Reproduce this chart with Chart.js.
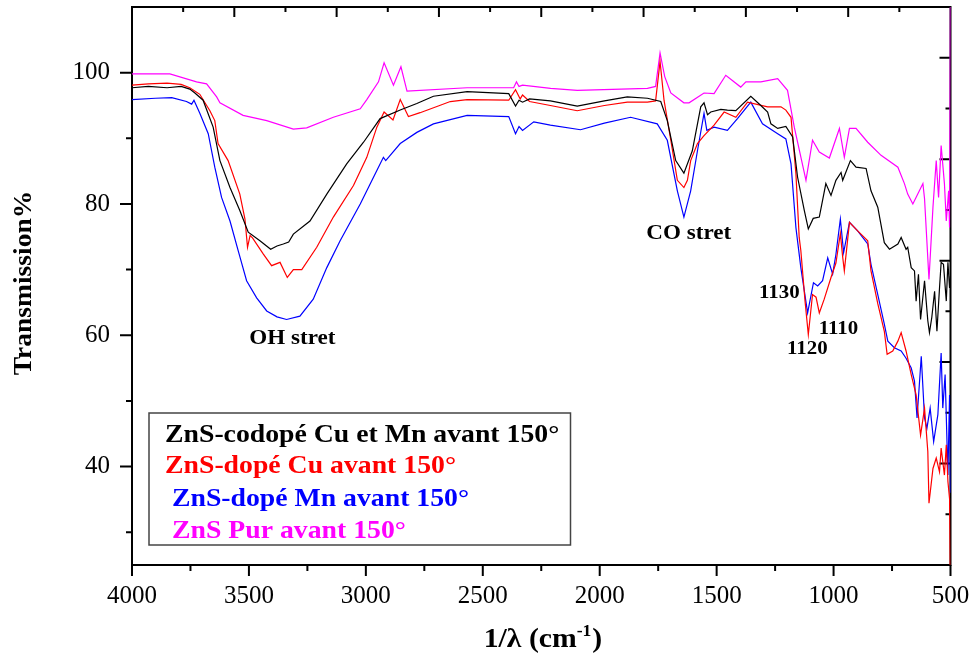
<!DOCTYPE html>
<html><head><meta charset="utf-8">
<script src="https://cdn.jsdelivr.net/npm/chart.js@4.4.1/dist/chart.umd.min.js"></script>
<style>html,body{margin:0;padding:0;background:#fff;}canvas{display:block;}</style>
</head><body>
<canvas id="c" width="975" height="659"></canvas>
<script>
// ---- tick labels / axis values ----
const xTicks = [4000, 3500, 3000, 2500, 2000, 1500, 1000, 500];
const xMinorTicks = [3750, 3250, 2750, 2250, 1750, 1250, 750];
const yTicks = [40, 60, 80, 100];
const yMinorTicks = [30, 50, 70, 90];
const xMin = 500, xMax = 4000, yMin = 25, yMax = 110;

// ---- series names and colours ----
const seriesNames = [
  "ZnS-codopé Cu et Mn avant 150°",
  "ZnS-dopé Cu avant 150°",
  " ZnS-dopé Mn avant 150°",
  "ZnS Pur avant 150°"
];
const seriesColors = ["#000000", "#ff0000", "#0000ff", "#ff00ff"];

// ---- ZnS-codopé Cu et Mn (black) ----
const codopeWn = [4000,3930,3850,3790,3753,3731,3696,3653,3624,3581,3539,3503,3453,3407,3380,3353,3330,3310,3239,3167,3082,3010,2939,2853,2782,2711,2567,2389,2360,2345,2330,2300,2211,2096,1980,1882,1796,1739,1711,1675,1640,1604,1568,1554,1539,1525,1482,1454,1418,1354,1311,1282,1268,1239,1204,1175,1154,1125,1108,1087,1061,1033,1011,990,968,961,928,904,861,840,811,783,761,725,711,690,683,668,654,647,637,628,611,604,597,590,580,568,558,547,540,530,518,511,504,500];
const codopeT  = [97.7,97.9,97.7,97.9,97.5,96.9,95.8,91.7,86.6,82.5,79.0,75.7,74.4,73.1,73.6,73.9,74.2,75.4,77.4,81.5,86.1,89.4,93.0,94.3,95.3,96.4,97.1,96.8,94.9,95.8,95.5,96.0,95.7,94.9,95.7,96.3,96.1,95.6,92.7,86.6,84.7,88.1,94.8,95.4,93.6,94.0,94.4,94.3,94.2,96.4,95.0,94.0,92.2,91.5,91.8,90.2,84.1,79.0,76.2,77.8,78.0,83.1,81.3,83.6,84.8,83.6,86.6,85.6,85.4,82.0,79.5,74.1,73.1,73.9,74.9,73.1,73.4,70.3,69.8,65.2,69.3,62.4,68.3,65.2,62.2,60.4,62.7,66.7,60.6,67.2,71.1,70.8,65.2,71.1,67.2,69.0];

// ---- ZnS-dopé Cu (red) ----
const cuWn = [4000,3930,3850,3790,3753,3710,3667,3646,3632,3589,3539,3517,3506,3495,3484,3439,3403,3367,3336,3310,3274,3210,3139,3053,2996,2953,2922,2884,2853,2818,2768,2639,2567,2389,2360,2340,2330,2300,2211,2096,1980,1882,1796,1761,1742,1725,1696,1668,1640,1625,1611,1582,1554,1511,1468,1418,1368,1282,1225,1204,1182,1161,1147,1140,1122,1108,1090,1075,1061,1040,1011,990,971,961,954,932,897,854,840,811,783,771,747,725,711,690,668,647,628,611,597,592,575,561,547,540,526,518,511,504,500];
const cuT  = [98.1,98.3,98.4,98.2,97.7,96.7,94.2,92.7,89.2,86.6,81.5,77.7,73.4,75.2,74.8,72.4,70.6,71.1,68.8,70.0,70.0,73.4,78.0,82.8,87.1,91.7,94.0,92.8,95.9,93.3,93.9,95.6,95.9,95.8,97.4,96.0,96.6,95.6,95.0,94.2,95.0,95.5,95.5,95.7,101.7,95.8,89.7,83.6,82.5,83.6,86.6,89.2,90.4,92.0,94.0,93.2,95.5,94.8,94.8,94.3,93.2,84.6,74.9,72.9,65.2,60.1,66.2,65.8,63.4,65.5,68.8,71.0,75.5,71.9,69.8,77.2,75.9,74.4,69.8,64.8,60.6,57.1,57.6,59.1,60.4,57.6,54.0,50.9,44.8,48.9,42.3,34.4,39.7,41.3,39.2,42.8,38.7,43.3,37.7,35.1,20.0];

// ---- ZnS-dopé Mn (blue) ----
const mnWn = [4000,3900,3830,3767,3745,3735,3710,3674,3646,3617,3581,3546,3510,3467,3424,3380,3339,3282,3225,3167,3110,3024,2953,2925,2915,2853,2782,2711,2567,2389,2360,2345,2330,2282,2211,2082,1980,1868,1754,1711,1668,1640,1611,1582,1554,1542,1511,1454,1411,1354,1304,1239,1204,1182,1161,1140,1111,1086,1068,1047,1025,1004,990,971,957,932,897,854,840,811,783,768,740,711,690,668,654,643,625,611,601,587,572,554,540,533,523,511,504,500];
const mnT  = [95.9,96.1,96.2,95.6,95.2,95.8,93.8,90.7,85.6,81.0,77.4,72.9,68.3,65.7,63.7,62.8,62.4,62.9,65.5,70.3,74.4,80.0,85.1,87.1,86.6,89.2,90.9,92.2,93.5,93.3,90.7,91.8,91.2,92.5,92.0,91.3,92.3,93.2,92.2,89.7,82.0,78.0,82.0,88.1,93.8,91.2,91.7,91.2,93.0,95.5,92.2,90.7,89.9,86.1,76.4,70.3,63.4,68.0,67.5,68.3,71.8,69.3,72.3,77.7,72.6,77.2,75.9,73.9,70.8,66.2,61.7,59.1,58.1,57.6,56.5,55.0,53.0,47.4,56.8,47.4,45.8,48.9,43.8,47.9,57.3,48.9,54.0,38.7,50.9,36.0];

// ---- ZnS Pur (magenta) ----
const purWn = [4000,3838,3724,3681,3638,3624,3525,3424,3310,3253,3139,3024,2996,2946,2922,2882,2850,2824,2567,2368,2356,2345,2330,2210,2096,1796,1761,1742,1722,1696,1640,1618,1554,1511,1461,1397,1375,1311,1239,1197,1168,1118,1090,1061,1018,975,954,932,904,854,797,725,697,683,661,640,618,611,592,575,561,551,540,526,518,508,504,500];
const purT  = [99.8,99.8,98.6,98.3,96.3,95.4,93.5,92.7,91.4,91.6,93.2,94.5,95.9,98.6,101.5,98.1,100.9,97.2,97.7,97.7,98.6,97.9,98.1,97.6,97.3,97.6,97.9,103.0,99.4,96.9,95.4,95.4,96.9,96.8,99.6,97.8,98.6,98.6,99.1,97.3,91.7,83.6,89.7,87.9,87.0,91.5,87.1,91.5,91.5,89.4,87.4,85.6,83.1,81.5,80.0,81.5,83.1,80.8,68.5,79.5,86.6,81.0,88.9,83.1,77.4,82.0,76.4,115.0];

// ---- annotations (text, wavenumber, transmission at text baseline) ----
const annoTexts = ["OH stret", "CO stret", "1130", "1110", "1120"];
const annoWn    = [3314, 1619, 1232, 979, 1112];
const annoT     = [58.6, 74.7, 65.7, 60.2, 57.1];
const annoSize  = [21, 21, 19, 19, 19];

const FONT = '"Liberation Serif", "Times New Roman", serif';

function toPts(xs, ys) { return xs.map((x, i) => ({ x: x, y: ys[i] })); }

function stretchText(ctx, s, x, y, size, color, align, sx, bold) {
  ctx.save();
  ctx.translate(x, y);
  ctx.scale(sx, 1);
  ctx.font = (bold ? 'bold ' : '') + size + 'px ' + FONT;
  ctx.fillStyle = color;
  ctx.textAlign = align;
  ctx.textBaseline = 'alphabetic';
  ctx.fillText(s, 0, 0);
  ctx.restore();
}

const framePlugin = {
  id: 'frame',
  beforeDatasetsDraw(chart) {
    const ctx = chart.ctx, a = chart.chartArea;
    const xs = chart.scales.x, ys = chart.scales.y;
    ctx.save();
    ctx.strokeStyle = '#000';
    ctx.lineWidth = 2;
    ctx.lineCap = 'square';
    ctx.strokeRect(a.left, a.top, a.right - a.left, a.bottom - a.top);
    ctx.lineCap = 'butt';
    ctx.beginPath();
    xTicks.forEach(v => { const p = xs.getPixelForValue(v); ctx.moveTo(p, a.bottom); ctx.lineTo(p, a.bottom + 11); });
    xMinorTicks.forEach(v => { const p = xs.getPixelForValue(v); ctx.moveTo(p, a.bottom); ctx.lineTo(p, a.bottom + 6); });
    yTicks.forEach(v => { const p = ys.getPixelForValue(v); ctx.moveTo(a.left - 12, p); ctx.lineTo(a.left, p); });
    yMinorTicks.forEach(v => { const p = ys.getPixelForValue(v); ctx.moveTo(a.left - 6, p); ctx.lineTo(a.left, p); });
    for (let i = 1; i < 16; i++) {
      const p = xs.getPixelForValue(xMax - i * (xMax - xMin) / 16);
      ctx.moveTo(p, a.top); ctx.lineTo(p, a.top + (i % 2 === 0 ? 10 : 5));
    }
    for (let i = 1; i < 11; i++) {
      const p = ys.getPixelForValue(yMin + i * (yMax - yMin) / 11);
      ctx.moveTo(a.right, p); ctx.lineTo(a.right - (i % 2 === 0 ? 11 : 5), p);
    }
    ctx.stroke();
    ctx.restore();
  },
  afterDraw(chart) {
    const ctx = chart.ctx;
    const xs = chart.scales.x, ys = chart.scales.y;
    annoTexts.forEach((t, i) => {
      stretchText(ctx, t, xs.getPixelForValue(annoWn[i]), ys.getPixelForValue(annoT[i]), annoSize[i], '#000', 'center', 1.1, true);
    });
    ctx.save();
    ctx.strokeStyle = '#444';
    ctx.lineWidth = 1.5;
    ctx.strokeRect(149, 413, 421.5, 132);
    ctx.restore();
    const lx = [165, 165, 165, 172];
    const ly = [441.5, 473, 505.5, 538];
    seriesNames.forEach((n, i) => stretchText(ctx, n, lx[i], ly[i], 25, seriesColors[i], 'left', 1.11, true));
    ctx.save();
    ctx.translate(31, 283);
    ctx.rotate(-Math.PI / 2);
    stretchText(ctx, 'Transmission%', 0, 0, 25, '#000', 'center', 1.1, true);
    ctx.restore();
    ctx.save();
    const sx = 1.1;
    ctx.font = 'bold 27px ' + FONT;
    const w1 = ctx.measureText('1/λ (cm').width * sx;
    ctx.font = 'bold 16px ' + FONT;
    const w2 = ctx.measureText('-1').width * sx;
    ctx.font = 'bold 27px ' + FONT;
    const w3 = ctx.measureText(')').width * sx;
    const total = w1 + w2 + w3;
    let x0 = 542.5 - total / 2;
    stretchText(ctx, '1/λ (cm', x0, 646.5, 27, '#000', 'left', sx, true);
    stretchText(ctx, '-1', x0 + w1, 636, 16, '#000', 'left', sx, true);
    stretchText(ctx, ')', x0 + w1 + w2 + 1, 646.5, 27, '#000', 'left', sx, true);
    ctx.restore();
  }
};

const datasets = [
  { label: seriesNames[0], data: toPts(codopeWn, codopeT), borderColor: seriesColors[0] },
  { label: seriesNames[1], data: toPts(cuWn, cuT), borderColor: seriesColors[1] },
  { label: seriesNames[2], data: toPts(mnWn, mnT), borderColor: seriesColors[2] },
  { label: seriesNames[3], data: toPts(purWn, purT), borderColor: seriesColors[3] }
].map(d => Object.assign(d, { showLine: true, pointRadius: 0, borderWidth: 1.2, tension: 0, fill: false, clip: 0 }));

new Chart(document.getElementById('c'), {
  type: 'scatter',
  data: { datasets: datasets },
  options: {
    responsive: false,
    animation: false,
    layout: { padding: { top: 7, right: 24.5, left: 0, bottom: 0 } },
    plugins: { legend: { display: false }, tooltip: { enabled: false } },
    scales: {
      x: {
        type: 'linear', reverse: true, min: xMin, max: xMax,
        afterBuildTicks: s => { s.ticks = xTicks.map(v => ({ value: v })); },
        afterFit: s => { s.height = 94; s.paddingLeft = 0; s.paddingRight = 0; },
        grid: { display: false, drawTicks: false },
        border: { display: false },
        ticks: { padding: 16, color: '#000', font: { family: FONT, size: 25 }, maxRotation: 0, autoSkip: false, callback: v => String(v) }
      },
      y: {
        type: 'linear', min: yMin, max: yMax,
        afterBuildTicks: s => { s.ticks = yTicks.map(v => ({ value: v })); },
        afterFit: s => { s.width = 132; s.paddingTop = 0; s.paddingBottom = 0; },
        grid: { display: false, drawTicks: false },
        border: { display: false },
        ticks: { padding: 22, color: '#000', font: { family: FONT, size: 25 }, autoSkip: false, callback: v => String(v) }
      }
    }
  },
  plugins: [framePlugin]
});
</script>
</body></html>
